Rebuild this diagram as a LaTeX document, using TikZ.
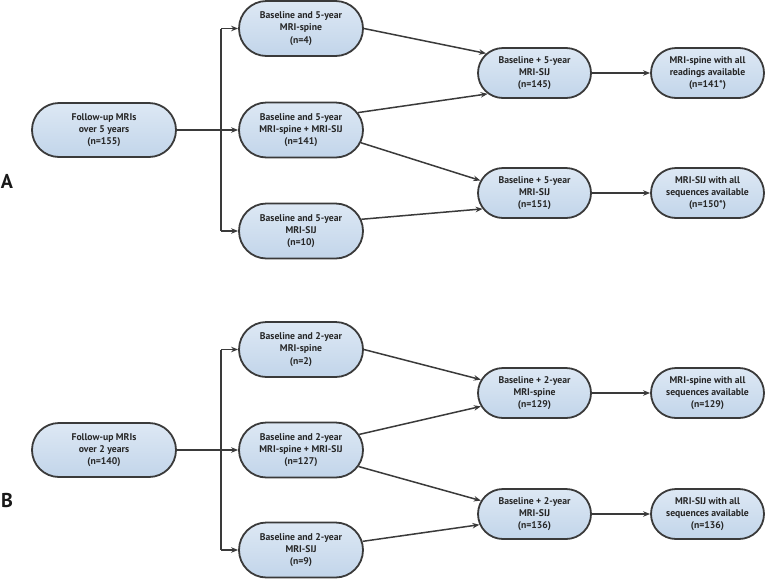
\documentclass[tikz,border=0pt]{standalone}
\usepackage{fontspec}
\setmainfont{PT Sans}
\usetikzlibrary{shapes.misc,arrows.meta}
\definecolor{boxtop}{HTML}{DDE8F4}
\definecolor{boxbot}{HTML}{C2D5EA}
\definecolor{edge}{HTML}{3A3A3A}
\begin{document}
\begin{tikzpicture}[x=1pt,y=-1pt,
  box/.style={rounded rectangle, draw=edge, line width=1.8pt, top color=boxtop, bottom color=boxbot,
    align=center, inner sep=0pt, font=\fontsize{9.7}{12.3}\selectfont\bfseries, text=black!85},
  wide/.style={box, minimum width=144pt, minimum height=54pt},
  mid/.style={box, minimum width=124pt, minimum height=55pt},
  small/.style={box, minimum width=113pt, minimum height=50pt},
  conn/.style={draw=edge, line width=1.5pt},
  arr/.style={conn, -{Stealth[length=7pt,width=5.5pt]}},
  panel/.style={font=\fontsize{20}{20}\selectfont\bfseries, text=black!90}]
\useasboundingbox (0,0) rectangle (765,579);
% ---------- Panel A ----------
\node[panel] (labA) at (7,181) {A};
\node[wide] (fA) at (104,130) {Follow-up MRIs\\over 5 years\\(n=155)};
\node[mid] (b1A) at (301,28.5) {Baseline and 5-year\\MRI-spine\\(n=4)};
\node[mid] (b2A) at (301,130) {Baseline and 5-year\\MRI-spine + MRI-SIJ\\(n=141)};
\node[mid] (b3A) at (301,231) {Baseline and 5-year\\MRI-SIJ\\(n=10)};
\node[small] (m1A) at (534.5,73) {Baseline + 5-year\\MRI-SIJ\\(n=145)};
\node[small] (m2A) at (534.5,193) {Baseline + 5-year\\MRI-SIJ\\(n=151)};
\node[small] (r1A) at (707.5,73) {MRI-spine with all\\readings available\\(n=141*)};
\node[small] (r2A) at (707.5,193) {MRI-SIJ with all\\sequences available\\(n=150*)};
\coordinate (jA) at (221,130);
\draw[arr] (fA.east) -- (b2A.west);
\draw[conn] (jA |- b1A.west) -- (jA |- b3A.west);
\draw[arr] (jA |- b1A.west) -- (b1A.west);
\draw[arr] (jA |- b3A.west) -- (b3A.west);
\draw[arr] (b1A.east) -- (m1A.158);
\draw[arr] (b2A.17) -- (m1A.204);
\draw[arr] (b2A.-12) -- (m2A.167);
\draw[arr] (b3A.11) -- (m2A.197);
\draw[arr] (m1A.east) -- (r1A.west);
\draw[arr] (m2A.east) -- (r2A.west);
% ---------- Panel B ----------
\node[panel] (labB) at (7,500) {B};
\node[wide] (fB) at (104,450) {Follow-up MRIs\\over 2 years\\(n=140)};
\node[mid] (b1B) at (301,349.5) {Baseline and 2-year\\MRI-spine\\(n=2)};
\node[mid] (b2B) at (301,450) {Baseline and 2-year\\MRI-spine + MRI-SIJ\\(n=127)};
\node[mid] (b3B) at (301,550) {Baseline and 2-year\\MRI-SIJ\\(n=9)};
\node[small] (m1B) at (534.5,393) {Baseline + 2-year\\MRI-spine\\(n=129)};
\node[small] (m2B) at (534.5,514) {Baseline + 2-year\\MRI-SIJ\\(n=136)};
\node[small] (r1B) at (707.5,393) {MRI-spine with all\\sequences available\\(n=129)};
\node[small] (r2B) at (707.5,514) {MRI-SIJ with all\\sequences available\\(n=136)};
\coordinate (jB) at (221,450);
\draw[arr] (fB.east) -- (b2B.west);
\draw[conn] (jB |- b1B.west) -- (jB |- b3B.west);
\draw[arr] (jB |- b1B.west) -- (b1B.west);
\draw[arr] (jB |- b3B.west) -- (b3B.west);
\draw[arr] (b1B.east) -- (m1B.166);
\draw[arr] (b2B.15) -- (m1B.194);
\draw[arr] (b2B.-16) -- (m2B.166);
\draw[arr] (b3B.8) -- (m2B.191);
\draw[arr] (m1B.east) -- (r1B.west);
\draw[arr] (m2B.east) -- (r2B.west);
\end{tikzpicture}
\end{document}
